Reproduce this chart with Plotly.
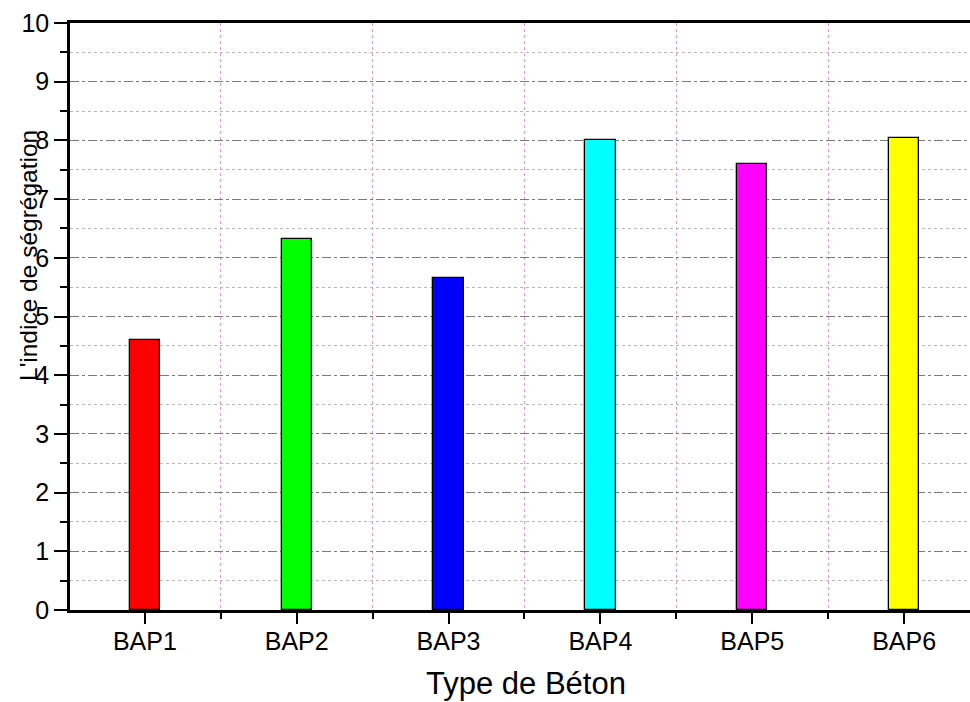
import plotly.graph_objects as go

# Segregation index per concrete mix
categories = ["BAP1", "BAP2", "BAP3", "BAP4", "BAP5", "BAP6"]
values = [4.6, 6.32, 5.65, 8.0, 7.6, 8.04]
bar_colors = ["#ff0000", "#00ff00", "#0000ff", "#00ffff", "#ff00ff", "#ffff00"]
y_ticks = [0, 1, 2, 3, 4, 5, 6, 7, 8, 9, 10]

positions = list(range(len(categories)))
FONT = "Arial"

fig = go.Figure()
fig.add_trace(go.Bar(
    x=positions,
    y=values,
    width=0.2,
    marker=dict(color=bar_colors, line=dict(color="#000000", width=1.3)),
    showlegend=False,
))

fig.update_layout(
    width=970,
    height=702,
    margin=dict(l=70, r=0, t=23, b=92),
    paper_bgcolor="white",
    plot_bgcolor="white",
    font=dict(family=FONT, color="#000000"),
    bargap=0,
    xaxis=dict(
        range=[-0.493, 5.434],
        tickmode="array",
        tickvals=positions,
        ticktext=categories,
        ticks="outside",
        ticklen=11,
        tickwidth=2,
        tickcolor="#000000",
        tickfont=dict(size=25, family=FONT),
        ticklabelstandoff=-4,
        showline=True,
        linecolor="#000000",
        linewidth=2.5,
        mirror=True,
        showgrid=False,
        zeroline=False,
        minor=dict(
            tickmode="array",
            tickvals=[-0.5, 0.5, 1.5, 2.5, 3.5, 4.5, 5.5],
            ticks="outside",
            ticklen=6,
            tickwidth=2,
            tickcolor="#000000",
            showgrid=True,
            gridcolor="#e98ae9",
            gridwidth=1,
            griddash="dot",
        ),
    ),
    yaxis=dict(
        range=[0, 10],
        tickmode="array",
        tickvals=y_ticks,
        ticks="outside",
        ticklen=13,
        tickwidth=2,
        tickcolor="#000000",
        tickfont=dict(size=25, family=FONT),
        ticklabelstandoff=0,
        showline=True,
        linecolor="#000000",
        linewidth=2.5,
        showgrid=True,
        gridcolor="#7a7a7a",
        gridwidth=1,
        griddash="dashdot",
        zeroline=False,
        minor=dict(
            dtick=0.5,
            ticks="outside",
            ticklen=7,
            tickwidth=2,
            tickcolor="#000000",
            showgrid=True,
            gridcolor="#b8b8b8",
            gridwidth=1,
            griddash="dot",
        ),
    ),
    annotations=[
        dict(
            text="Type de Béton",
            xref="paper", yref="paper",
            x=(526 - 70) / 900, y=-(683 - 610) / 587,
            xanchor="center", yanchor="middle",
            showarrow=False,
            font=dict(size=31, family=FONT, color="#000000"),
        ),
        dict(
            text="L'indice de ségrégation",
            xref="paper", yref="paper",
            x=(29 - 70) / 900, y=(610 - 256) / 587,
            xanchor="center", yanchor="middle",
            textangle=-90,
            showarrow=False,
            font=dict(size=24.5, family=FONT, color="#000000"),
        ),
    ],
)

fig.write_html("out.html")
